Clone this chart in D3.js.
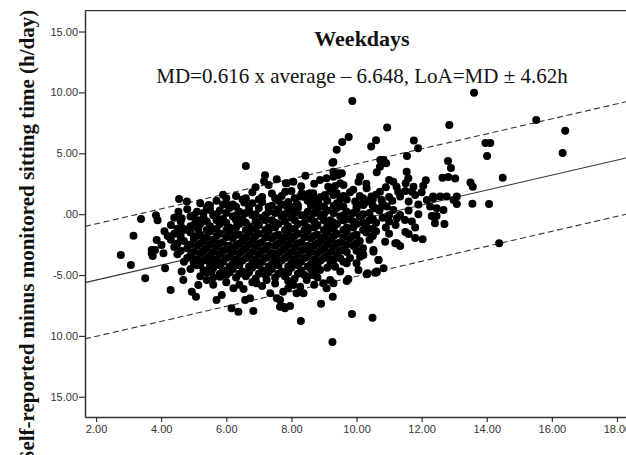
<!DOCTYPE html>
<html><head><meta charset="utf-8">
<script src="https://cdn.jsdelivr.net/npm/d3@7/dist/d3.min.js"></script>
<style>body{margin:0;background:#fff}svg{display:block}</style>
</head><body>
<svg id="chart" width="626" height="455"></svg>
<script>
// ---- data ----
const xTicks = [2, 4, 6, 8, 10, 12, 14, 16, 18];
const xTickLabels = ["2.00", "4.00", "6.00", "8.00", "10.00", "12.00", "14.00", "16.00", "18.00"];
const yTicks = [15, 10, 5, 0, -5, -10, -15];
const yTickLabels = ["15.00", "10.00", "5.00", ".00", "-5.00", "10.00", "15.00"];
const titleText = "Weekdays";
const subtitleText = "MD=0.616 x average \u2013 6.648, LoA=MD \u00b1 4.62h";
const yTitle = "Self-reported minus monitored sitting time (h/day)";
const mdSlope = 0.616, mdIntercept = -6.648, loaHalf = 4.62;

// sparse points read individually
const upperPoints = [[9.87,9.30],[13.61,9.98],[15.52,7.74],[16.41,6.84],[16.33,5.03],[12.85,7.33],[10.94,7.11],[9.76,6.34],[9.56,5.93],[9.39,5.28],[9.29,4.29],[10.45,5.55],[10.60,6.07],[11.76,6.04],[11.89,5.41],[11.55,4.78],[13.96,5.85],[14.11,5.85],[14.01,4.78],[12.81,4.37],[12.90,3.80],[12.64,3.00],[12.82,3.06],[13.03,2.92],[14.49,3.00],[13.50,2.59],[13.57,2.26],[13.08,0.84],[13.56,0.86],[14.07,0.84],[12.70,-0.81],[14.38,-2.39],[12.13,2.79],[12.05,2.34],[10.73,4.45],[10.85,4.23],[8.43,3.16],[12.35,1.44],[12.57,1.44],[12.77,1.44],[12.31,-0.15],[12.46,-0.15],[11.80,-1.96],[12.03,-2.06],[11.24,-2.39],[11.34,-2.61],[11.50,-1.46],[11.60,-1.63],[10.68,-3.76],[10.62,-4.72],[10.34,-4.86],[9.75,-5.32],[10.88,-2.26],[11.19,-2.39]];
const leftPoints = [[6.60,3.96],[7.19,3.20],[7.16,2.70],[7.55,2.87],[7.83,2.54],[4.55,1.25],[4.79,1.03],[3.38,-0.40],[3.84,-0.10],[3.89,-0.50],[3.15,-1.77],[2.76,-3.35],[5.46,0.76],[5.50,0.35],[6.00,1.30],[6.04,0.76],[6.55,0.95],[4.53,0.20],[4.63,-0.34],[4.66,-1.16],[4.60,-1.57],[5.04,-0.75],[5.24,-0.48],[5.14,-1.24],[3.86,-2.12],[4.01,-2.53],[3.71,-2.94],[3.74,-3.43],[3.07,-4.17],[3.51,-5.27],[4.12,-4.45],[4.29,-6.23],[3.71,-3.21],[3.81,-2.94],[4.07,-3.21],[4.63,-4.72],[4.68,-5.41],[4.94,-6.37],[5.07,-6.78],[5.14,-5.82],[5.70,-7.05],[5.86,-6.64],[6.16,-7.73],[6.37,-8.01],[6.83,-7.95],[6.22,-6.09],[6.53,-6.15],[6.58,-7.05],[6.73,-6.91],[5.40,-5.41],[5.55,-4.72],[5.81,-5.14],[5.20,-4.17],[5.50,-4.03],[7.35,-6.50],[7.55,-6.91],[7.76,-7.60],[6.93,-5.68],[7.24,-5.41]];
const midPoints = [[8.06,2.67],[8.88,2.81],[9.08,2.95],[9.29,3.08],[9.44,3.22],[9.13,2.26],[9.34,2.32],[9.50,2.54],[9.03,1.58],[9.29,1.58],[9.39,1.72],[7.86,0.62],[8.17,0.84],[8.27,1.44],[8.57,1.72],[8.67,1.17],[8.83,0.90],[10.11,3.08],[10.06,2.67],[10.31,2.13],[10.46,1.44],[10.72,1.85],[10.77,1.17],[11.54,3.49],[11.59,2.95],[11.51,2.54],[11.13,2.67],[11.23,2.26],[11.28,1.85],[11.34,1.44],[11.75,2.26],[11.70,1.85],[11.80,1.58],[11.60,1.03],[12.16,1.17],[12.36,1.31],[12.98,1.17],[13.08,1.44],[12.26,0.62],[12.46,0.48],[12.67,0.35],[12.36,-0.21],[12.41,-0.75],[9.96,1.03],[10.21,0.76],[10.42,1.17],[10.57,0.48],[10.72,0.48],[10.93,0.62],[11.13,0.35],[11.34,-0.07],[11.24,-0.34],[11.49,-0.48],[10.83,4.45],[10.91,4.18],[10.72,3.90],[10.62,3.44],[9.26,4.23],[9.29,3.49],[9.44,3.36],[9.55,3.36],[7.86,2.54],[7.81,1.85],[8.32,1.72],[8.52,1.66],[8.67,1.72]];
const lowerPoints = [[8.29,-8.78],[8.91,-7.35],[9.27,-6.78],[9.86,-8.20],[10.49,-8.50],[8.37,-6.50],[7.75,-6.37],[7.90,-6.09],[8.06,-5.82],[7.65,-7.60],[7.80,-7.73],[7.65,-7.05],[7.96,-7.54],[8.98,-5.68],[9.19,-5.41],[10.06,-4.59],[10.33,-4.91],[10.62,-4.77],[10.67,-3.76],[10.52,-3.08],[10.00,-4.03],[10.11,-3.49],[9.70,-4.03],[9.50,-3.62],[9.34,-4.31],[8.78,-4.03],[8.88,-4.59],[8.63,-5.00],[9.26,-10.50],[9.70,-5.49],[10.31,-4.94],[10.57,-4.81],[10.83,-4.45],[10.21,-3.35],[10.52,-2.94],[9.08,-6.09],[9.29,-5.68],[8.16,-6.50],[8.27,-5.96],[8.47,-5.41]];
// dense core, estimated
const corePoints = [
[6.9,2.2],[7.3,2.4],[8.3,2.3],[8.7,2.5],[9.6,2.4],[9.9,2.0],[10.3,2.5],[10.9,2.2],[11.0,2.8],
[5.9,1.6],[6.3,1.5],[6.8,1.8],[7.1,1.4],[7.4,1.7],[7.7,1.5],[8.0,1.9],[8.1,1.3],[8.9,1.4],[9.2,1.9],[9.6,1.5],[9.8,1.8],[10.1,1.5],[10.6,1.6],[11.0,1.4],[11.5,1.9],[12.0,1.8],
[5.2,0.9],[5.7,1.1],[6.2,0.8],[6.5,1.2],[6.8,0.9],[7.1,1.0],[7.4,0.7],[7.6,1.1],[7.9,1.0],[8.2,0.7],[8.5,1.1],[8.8,0.8],[9.1,1.1],[9.4,0.9],[9.7,1.2],[10.0,0.6],[10.3,1.0],[10.8,0.9],[11.1,1.1],[11.9,0.8],
[4.8,0.4],[5.1,0.2],[5.4,0.5],[5.8,0.3],[6.1,0.5],[6.4,0.2],[6.7,0.4],[7.0,0.5],[7.3,0.2],[7.6,0.4],[7.9,0.3],[8.2,0.5],[8.5,0.2],[8.8,0.4],[9.1,0.3],[9.4,0.5],[9.7,0.2],[10.0,0.4],[10.4,0.1],[10.7,0.3],[11.0,-0.1],[11.6,0.3],[11.9,0.0],
[4.4,-0.3],[4.9,-0.2],[5.3,-0.3],[5.6,-0.1],[5.9,-0.4],[6.2,-0.2],[6.5,-0.4],[6.8,-0.1],[7.1,-0.3],[7.4,-0.5],[7.7,-0.2],[8.0,-0.3],[8.3,-0.1],[8.6,-0.4],[8.9,-0.2],[9.2,-0.5],[9.5,-0.2],[9.8,-0.4],[10.1,-0.2],[10.4,-0.5],[10.8,-0.3],[11.7,-0.6],
[4.3,-0.9],[4.9,-1.0],[5.2,-0.8],[5.5,-1.0],[5.8,-0.8],[6.1,-1.1],[6.4,-0.8],[6.7,-1.0],[7.0,-0.9],[7.3,-1.1],[7.6,-0.8],[7.9,-1.0],[8.2,-0.8],[8.5,-1.1],[8.8,-0.9],[9.1,-1.0],[9.4,-0.8],[9.7,-1.1],[10.0,-0.8],[10.3,-1.0],[10.6,-0.7],[10.9,-1.1],[11.2,-0.9],[11.8,-1.1],
[4.1,-1.4],[4.4,-1.6],[4.9,-1.5],[5.2,-1.7],[5.5,-1.4],[5.8,-1.6],[6.1,-1.4],[6.4,-1.7],[6.7,-1.5],[7.0,-1.6],[7.3,-1.4],[7.6,-1.7],[7.9,-1.5],[8.2,-1.6],[8.5,-1.4],[8.8,-1.7],[9.1,-1.5],[9.4,-1.6],[9.7,-1.4],[10.0,-1.7],[10.3,-1.5],[10.6,-1.4],[11.0,-1.6],
[4.3,-2.1],[4.7,-2.2],[5.0,-2.0],[5.3,-2.2],[5.6,-2.1],[5.9,-2.3],[6.2,-2.0],[6.5,-2.2],[6.8,-2.1],[7.1,-2.3],[7.4,-2.0],[7.7,-2.2],[8.0,-2.1],[8.3,-2.3],[8.6,-2.0],[8.9,-2.2],[9.2,-2.1],[9.5,-2.3],[9.8,-2.0],[10.1,-2.2],[10.4,-2.1],
[4.4,-2.7],[4.8,-2.8],[5.1,-2.6],[5.4,-2.8],[5.7,-2.7],[6.0,-2.9],[6.3,-2.6],[6.6,-2.8],[6.9,-2.7],[7.2,-2.9],[7.5,-2.6],[7.8,-2.8],[8.1,-2.7],[8.4,-2.9],[8.7,-2.6],[9.0,-2.8],[9.3,-2.7],[9.6,-2.9],[9.9,-2.6],[10.2,-2.8],
[4.5,-3.3],[4.9,-3.4],[5.2,-3.2],[5.5,-3.4],[5.8,-3.3],[6.1,-3.5],[6.4,-3.2],[6.7,-3.4],[7.0,-3.3],[7.3,-3.5],[7.6,-3.2],[7.9,-3.4],[8.2,-3.3],[8.5,-3.5],[8.8,-3.2],[9.1,-3.4],[9.4,-3.3],[9.7,-3.1],[10.2,-3.3],
[4.7,-3.9],[5.0,-4.0],[5.3,-3.8],[5.6,-4.0],[5.9,-3.9],[6.2,-4.1],[6.5,-3.8],[6.8,-4.0],[7.1,-3.9],[7.4,-4.1],[7.7,-3.8],[8.0,-4.0],[8.3,-3.9],[8.6,-4.1],[8.9,-3.8],[9.2,-4.0],[9.6,-3.9],
[4.9,-4.5],[5.3,-4.6],[5.6,-4.4],[5.9,-4.6],[6.2,-4.5],[6.5,-4.7],[6.8,-4.4],[7.1,-4.6],[7.4,-4.5],[7.7,-4.7],[8.0,-4.4],[8.3,-4.6],[8.6,-4.5],[9.1,-4.4],[9.5,-4.7],
[5.2,-5.1],[5.6,-5.2],[6.0,-5.0],[6.3,-5.2],[6.6,-5.1],[6.9,-5.3],[7.2,-5.0],[7.5,-5.2],[7.8,-5.1],[8.1,-5.3],[8.4,-5.0],[8.8,-5.2],
[5.6,-5.8],[6.0,-5.6],[6.4,-5.8],[6.8,-5.6],[7.1,-5.9],[7.5,-5.7],[7.9,-5.5],[8.7,-5.8]
];
// dense core, second estimated layer (between the rows above)
const coreFill = [
[6.6,1.3],[7.0,1.2],[7.5,1.3],[8.4,1.4],[8.7,1.3],[9.5,1.2],[10.2,1.3],[10.5,1.2],
[5.5,0.7],[5.9,0.8],[6.3,0.6],[6.7,0.7],[7.3,0.6],[7.7,0.8],[8.0,0.6],[8.6,0.7],[9.0,0.6],[9.3,0.7],[9.6,0.6],[10.1,0.8],[10.5,0.7],
[5.0,-0.1],[5.3,0.1],[5.7,0.0],[6.0,0.1],[6.3,-0.1],[6.6,0.1],[6.9,0.0],[7.2,-0.1],[7.5,0.1],[7.8,0.0],[8.1,0.1],[8.4,-0.1],[8.7,0.1],[9.0,0.0],[9.3,0.1],[9.6,-0.1],[9.9,0.1],[10.2,0.0],
[4.6,-0.6],[5.1,-0.5],[5.4,-0.6],[5.7,-0.5],[6.0,-0.7],[6.3,-0.5],[6.6,-0.7],[6.9,-0.6],[7.2,-0.5],[7.5,-0.7],[7.8,-0.6],[8.1,-0.5],[8.4,-0.7],[8.7,-0.6],[9.0,-0.5],[9.3,-0.7],[9.6,-0.5],[9.9,-0.6],[10.2,-0.7],[10.5,-0.4],[11.0,-0.6],
[4.5,-1.2],[4.8,-1.3],[5.1,-1.1],[5.4,-1.3],[5.7,-1.2],[6.0,-1.3],[6.3,-1.1],[6.6,-1.3],[6.9,-1.2],[7.2,-1.3],[7.5,-1.1],[7.8,-1.3],[8.1,-1.2],[8.4,-1.3],[8.7,-1.1],[9.0,-1.3],[9.3,-1.2],[9.6,-1.3],[9.9,-1.1],[10.2,-1.3],[10.5,-1.2],
[4.2,-1.8],[4.6,-1.9],[5.1,-1.8],[5.4,-1.9],[5.7,-1.8],[6.0,-1.9],[6.3,-1.7],[6.6,-1.9],[6.9,-1.8],[7.2,-1.9],[7.5,-1.8],[7.8,-1.9],[8.1,-1.8],[8.4,-1.9],[8.7,-1.8],[9.0,-1.9],[9.3,-1.8],[9.6,-1.9],[9.9,-1.8],[10.5,-1.8],
[4.5,-2.4],[4.9,-2.5],[5.2,-2.4],[5.5,-2.5],[5.8,-2.4],[6.1,-2.6],[6.4,-2.4],[6.7,-2.5],[7.0,-2.4],[7.3,-2.6],[7.6,-2.4],[7.9,-2.5],[8.2,-2.4],[8.5,-2.6],[8.8,-2.4],[9.1,-2.5],[9.4,-2.4],[9.7,-2.5],[10.0,-2.4],
[4.6,-3.0],[5.0,-3.1],[5.3,-3.0],[5.6,-3.1],[5.9,-3.0],[6.2,-3.1],[6.5,-3.0],[6.8,-3.1],[7.1,-3.0],[7.4,-3.2],[7.7,-3.0],[8.0,-3.1],[8.3,-3.0],[8.6,-3.1],[8.9,-3.0],[9.2,-3.1],[9.5,-3.0],[10.0,-3.0],
[4.8,-3.6],[5.1,-3.7],[5.4,-3.6],[5.7,-3.7],[6.0,-3.6],[6.3,-3.7],[6.6,-3.6],[6.9,-3.7],[7.2,-3.6],[7.5,-3.7],[7.8,-3.6],[8.1,-3.7],[8.4,-3.6],[8.7,-3.7],[9.0,-3.6],[9.3,-3.7],[9.8,-3.6],
[5.1,-4.2],[5.5,-4.3],[5.8,-4.2],[6.1,-4.3],[6.4,-4.2],[6.7,-4.3],[7.0,-4.2],[7.3,-4.3],[7.6,-4.2],[7.9,-4.3],[8.2,-4.2],[8.5,-4.3],[8.8,-4.2],[9.3,-4.2],
[5.4,-4.8],[5.8,-4.9],[6.1,-4.8],[6.4,-4.9],[6.7,-4.8],[7.0,-4.9],[7.3,-4.8],[7.6,-4.9],[7.9,-4.8],[8.2,-4.9],[8.7,-4.8]
];

// ---- chart ----
const svg = d3.select("#chart");
const x = d3.scaleLinear().domain([1.66, 18.4]).range([85, 630]);
const y = d3.scaleLinear().domain([-16.66, 16.71]).range([417, 10.7]);
const pLeft = 85, pTop = 10.7, pBottom = 417, pRight = 630;

const tickFont = "'Liberation Sans', Arial, sans-serif";

svg.append("line").attr("x1", pLeft).attr("x2", pRight).attr("y1", pTop).attr("y2", pTop)
  .attr("stroke", "#333").attr("stroke-width", 1.2);

const xd = x.domain();
const lineDefs = [
  {off: 0, dash: null},
  {off: loaHalf, dash: "6,3.5"},
  {off: -loaHalf, dash: "6,3.5"}
];
svg.append("clipPath").attr("id", "pc").append("rect")
  .attr("x", pLeft).attr("y", pTop).attr("width", pRight - pLeft).attr("height", pBottom - pTop);
const plot = svg.append("g").attr("clip-path", "url(#pc)");
lineDefs.forEach(l => {
  plot.append("line")
    .attr("x1", x(xd[0])).attr("y1", y(mdSlope * xd[0] + mdIntercept + l.off))
    .attr("x2", x(xd[1])).attr("y2", y(mdSlope * xd[1] + mdIntercept + l.off))
    .attr("stroke", "#333").attr("stroke-width", 1.1)
    .attr("stroke-dasharray", l.dash);
});

const allPoints = [].concat(corePoints, coreFill, leftPoints, midPoints, upperPoints, lowerPoints);
plot.selectAll("circle").data(allPoints).join("circle")
  .attr("cx", d => x(d[0])).attr("cy", d => y(d[1])).attr("r", 4).attr("fill", "#000");

const xAxis = d3.axisBottom(x).tickValues(xTicks).tickFormat((d, i) => xTickLabels[i])
  .tickSizeInner(5).tickSizeOuter(0).tickPadding(3);
const gx = svg.append("g").attr("transform", `translate(0,${pBottom})`).call(xAxis);
const yAxis = d3.axisLeft(y).tickValues(yTicks).tickFormat((d, i) => yTickLabels[i])
  .tickSizeInner(6).tickSizeOuter(0).tickPadding(1);
const gy = svg.append("g").attr("transform", `translate(${pLeft},0)`).call(yAxis);
[gx, gy].forEach(g => {
  g.selectAll("path.domain").attr("stroke", "#333").attr("stroke-width", 1.5);
  g.selectAll(".tick line").attr("stroke", "#333").attr("stroke-width", 1.2);
  g.selectAll(".tick text").attr("fill", "#333").style("font-family", tickFont).style("font-size", "11px");
});

svg.append("text").attr("x", 362).attr("y", 46).attr("text-anchor", "middle")
  .style("font-family", "'Liberation Serif', 'Times New Roman', serif").style("font-weight", "bold")
  .style("font-size", "22px").attr("fill", "#111").text(titleText);
svg.append("text").attr("x", 362).attr("y", 83).attr("text-anchor", "middle")
  .style("font-family", "'Liberation Serif', 'Times New Roman', serif")
  .style("font-size", "21px").attr("fill", "#111").text(subtitleText);
svg.append("text").attr("transform", "translate(34,236) rotate(-90)").attr("text-anchor", "middle")
  .style("font-family", "'Liberation Serif', 'Times New Roman', serif").style("font-weight", "bold")
  .style("font-size", "21px").attr("fill", "#111").text(yTitle);
</script>
</body></html>
